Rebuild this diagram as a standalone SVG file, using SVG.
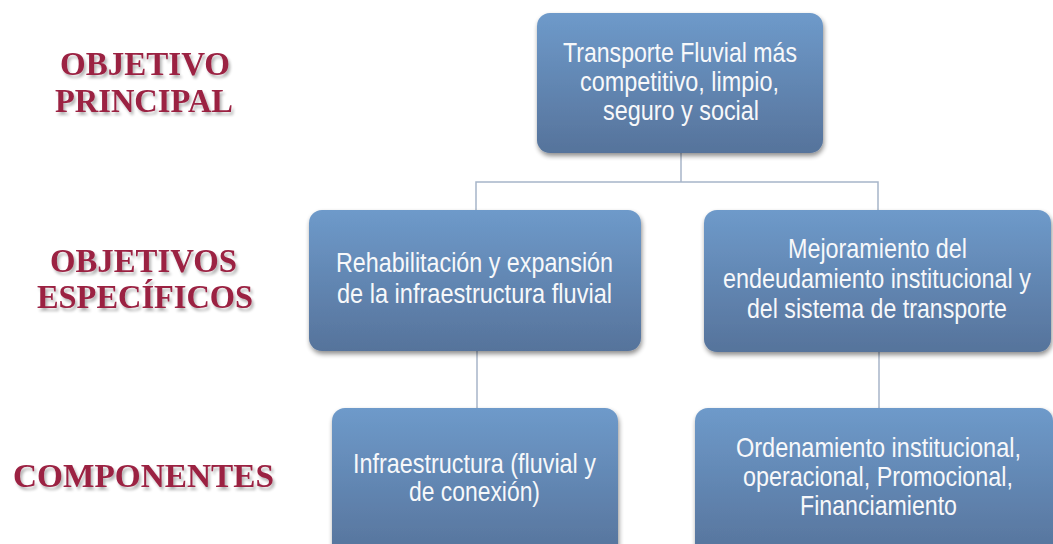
<svg xmlns="http://www.w3.org/2000/svg" width="1053" height="544" viewBox="0 0 1053 544">
<defs>
<linearGradient id="g" x1="0" y1="0" x2="0" y2="1">
<stop offset="0" stop-color="#6e9aca"/>
<stop offset="1" stop-color="#56739b"/>
</linearGradient>
<filter id="sh" x="-10%" y="-10%" width="125%" height="130%">
<feGaussianBlur in="SourceAlpha" stdDeviation="2.5"/>
<feOffset dx="1" dy="3" result="b"/>
<feComponentTransfer><feFuncA type="linear" slope="0.45"/></feComponentTransfer>
<feMerge><feMergeNode/><feMergeNode in="SourceGraphic"/></feMerge>
</filter>
<filter id="tsh" x="-5%" y="-20%" width="115%" height="160%">
<feGaussianBlur in="SourceAlpha" stdDeviation="1.5"/>
<feOffset dx="2" dy="3"/>
<feComponentTransfer><feFuncA type="linear" slope="0.3"/></feComponentTransfer>
<feMerge><feMergeNode/><feMergeNode in="SourceGraphic"/></feMerge>
</filter>
</defs>
<style>
.box{fill:url(#g);filter:url(#sh);}
.t{font-family:"Liberation Sans",Arial,sans-serif;font-size:24px;fill:#f7f8fa;text-anchor:start;}
.lbl{font-family:"Liberation Serif","Times New Roman",serif;font-weight:bold;font-size:34px;fill:#9b2243;filter:url(#tsh);}
.c{fill:none;stroke:#a7b5c9;stroke-width:1.5;}
</style>
<g id="labels">
<text class="lbl" x="60" y="75" textLength="170" lengthAdjust="spacingAndGlyphs">OBJETIVO</text>
<text class="lbl" x="55" y="112" textLength="178" lengthAdjust="spacingAndGlyphs">PRINCIPAL</text>
<text class="lbl" x="50" y="272" textLength="187" lengthAdjust="spacingAndGlyphs">OBJETIVOS</text>
<text class="lbl" x="37" y="308" textLength="216" lengthAdjust="spacingAndGlyphs">ESPECÍFICOS</text>
<text class="lbl" x="13" y="487" textLength="261" lengthAdjust="spacingAndGlyphs">COMPONENTES</text>
</g>
<g id="connectors">
<polyline class="c" points="681,153 681,182"/>
<polyline class="c" points="476,210 476,182 878,182 878,210"/>
<polyline class="c" points="477,351 477,408"/>
<polyline class="c" points="879,352 879,408"/>
</g>
<g id="n1">
<rect class="box" x="537" y="13" width="286" height="140" rx="13"/>
<text class="t" x="563" y="62" textLength="234" lengthAdjust="spacingAndGlyphs" transform="translate(0 62) scale(1 1.13) translate(0 -62)">Transporte Fluvial más</text>
<text class="t" x="580" y="91" textLength="199" lengthAdjust="spacingAndGlyphs" transform="translate(0 91) scale(1 1.13) translate(0 -91)">competitivo, limpio,</text>
<text class="t" x="603" y="120" textLength="156" lengthAdjust="spacingAndGlyphs" transform="translate(0 120) scale(1 1.13) translate(0 -120)">seguro y social</text>
</g>
<g id="n2">
<rect class="box" x="309" y="210" width="332" height="141" rx="13"/>
<text class="t" x="336" y="272" textLength="277" lengthAdjust="spacingAndGlyphs" transform="translate(0 272) scale(1 1.13) translate(0 -272)">Rehabilitación y expansión</text>
<text class="t" x="337" y="303" textLength="275" lengthAdjust="spacingAndGlyphs" transform="translate(0 303) scale(1 1.13) translate(0 -303)">de la infraestructura fluvial</text>
</g>
<g id="n3">
<rect class="box" x="704" y="210" width="347" height="142" rx="13"/>
<text class="t" x="788" y="258" textLength="179" lengthAdjust="spacingAndGlyphs" transform="translate(0 258) scale(1 1.13) translate(0 -258)">Mejoramiento del</text>
<text class="t" x="723" y="288" textLength="308" lengthAdjust="spacingAndGlyphs" transform="translate(0 288) scale(1 1.13) translate(0 -288)">endeudamiento institucional y</text>
<text class="t" x="747" y="318" textLength="260" lengthAdjust="spacingAndGlyphs" transform="translate(0 318) scale(1 1.13) translate(0 -318)">del sistema de transporte</text>
</g>
<g id="n4">
<rect class="box" x="332" y="408" width="286" height="150" rx="13"/>
<text class="t" x="353" y="473" textLength="243" lengthAdjust="spacingAndGlyphs" transform="translate(0 473) scale(1 1.13) translate(0 -473)">Infraestructura (fluvial y</text>
<text class="t" x="409" y="501" textLength="131" lengthAdjust="spacingAndGlyphs" transform="translate(0 501) scale(1 1.13) translate(0 -501)">de conexión)</text>
</g>
<g id="n5">
<rect class="box" x="695" y="408" width="358" height="150" rx="13"/>
<text class="t" x="736" y="457" textLength="285" lengthAdjust="spacingAndGlyphs" transform="translate(0 457) scale(1 1.13) translate(0 -457)">Ordenamiento institucional,</text>
<text class="t" x="743" y="486" textLength="270" lengthAdjust="spacingAndGlyphs" transform="translate(0 486) scale(1 1.13) translate(0 -486)">operacional, Promocional,</text>
<text class="t" x="800" y="515" textLength="157" lengthAdjust="spacingAndGlyphs" transform="translate(0 515) scale(1 1.13) translate(0 -515)">Financiamiento</text>
</g>
</svg>
